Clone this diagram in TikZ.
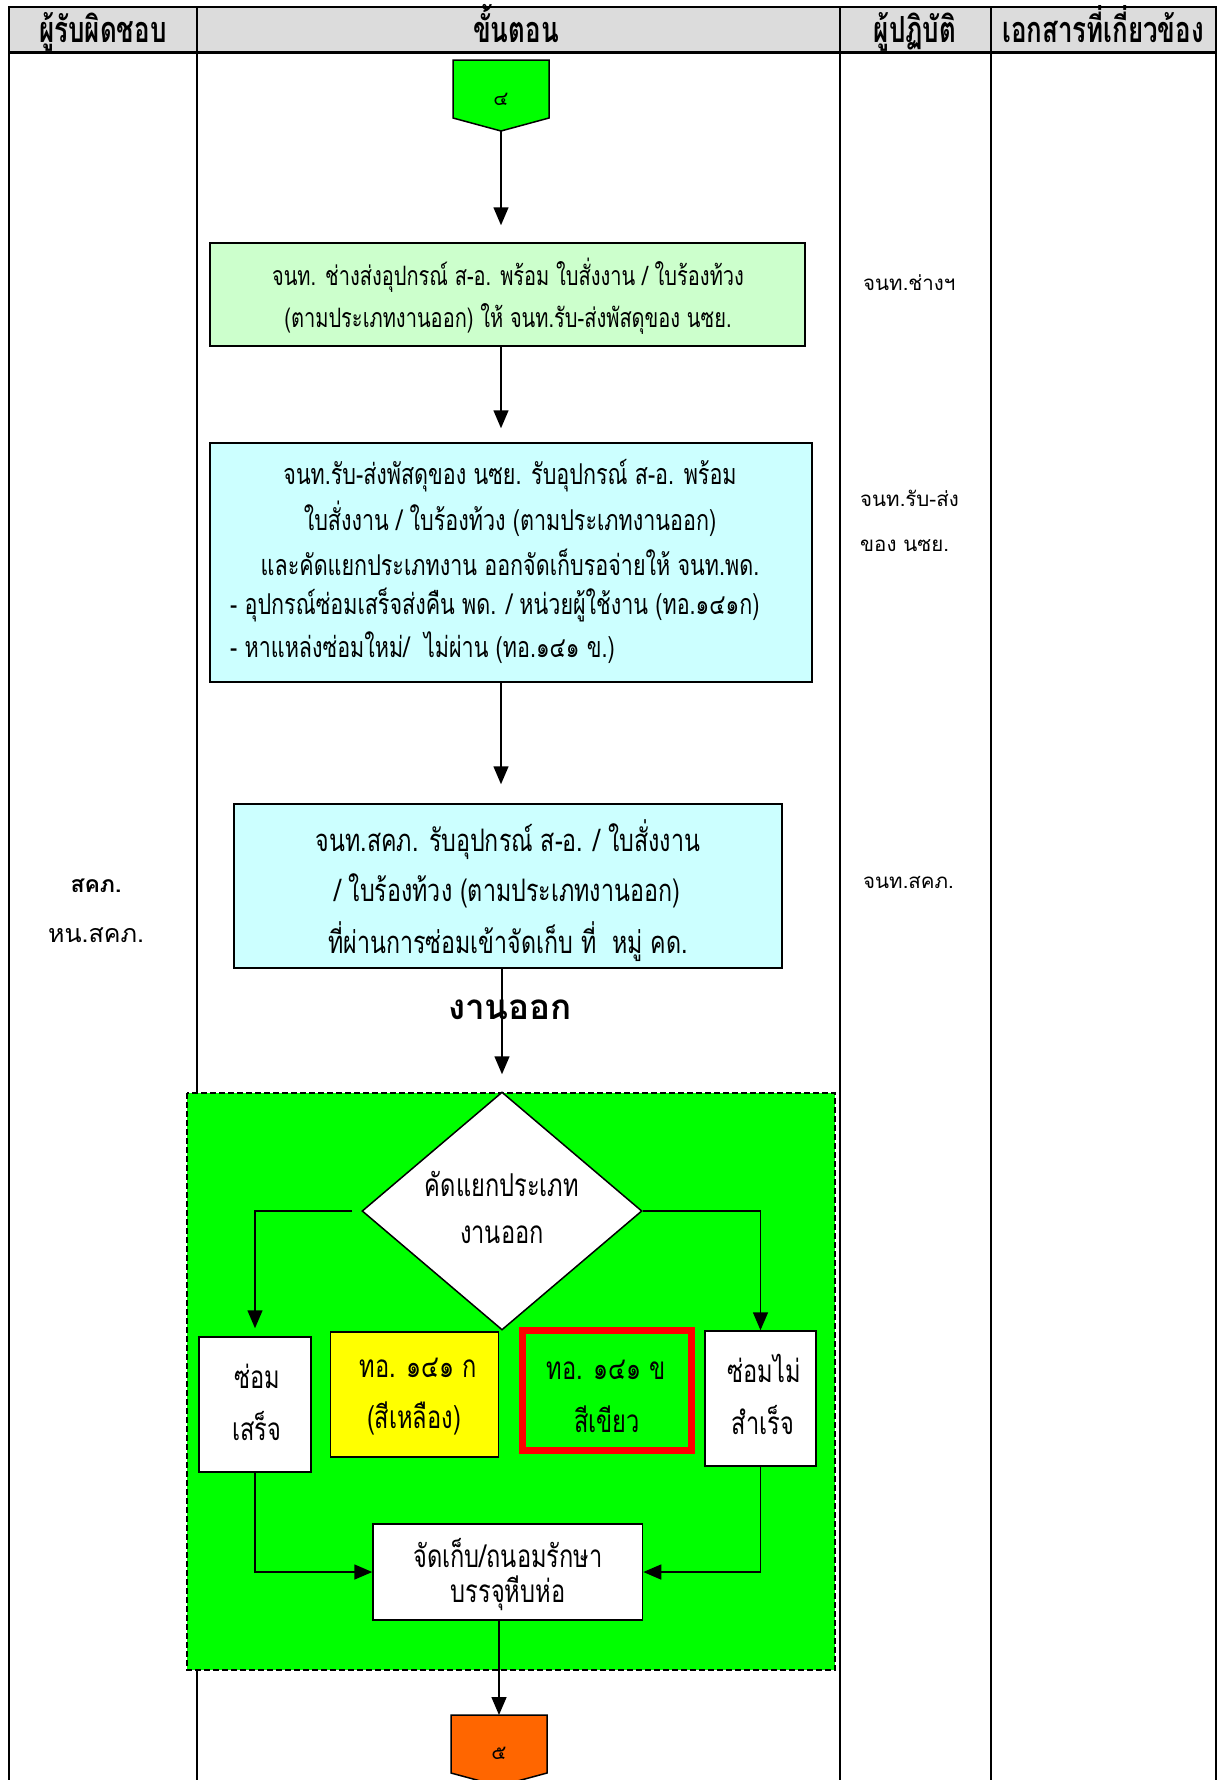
\documentclass[tikz,border=0pt]{standalone}
\usepackage{fontspec}
\setmainfont[Script=Thai]{Loma}
\newfontfamily\thaiC[Script=Thai,FakeStretch=0.75]{Loma}
\newfontfamily\thaiH[Script=Thai,FakeStretch=0.72]{Loma}
\newfontfamily\thaiN[Script=Thai]{Loma}
\usetikzlibrary{arrows.meta,shapes.geometric}
\definecolor{hdgray}{HTML}{DCDCDC}
\definecolor{lgreen}{HTML}{CCFFCC}
\definecolor{lcyan}{HTML}{CCFFFF}
\definecolor{vgreen}{HTML}{00FF00}
\definecolor{vyellow}{HTML}{FFFF00}
\definecolor{vred}{HTML}{FF0000}
\definecolor{vorange}{HTML}{FF6600}
\newcommand\bxf[1]{\thaiC\fontsize{#1}{#1}\selectfont}
\newcommand\sdf[1]{\thaiN\fontsize{#1}{#1}\selectfont}
\newcommand\hdfont{\thaiH\bfseries\fontsize{36}{38}\selectfont}
\tikzset{
  box/.style={draw, line width=1.5pt, inner sep=0pt},
  arr/.style={line width=1.5pt, -{Triangle[length=18pt,width=15pt]}},
  tA/.style={inner sep=0pt, font=\bxf{26.7}},
  tB/.style={inner sep=0pt, font=\bxf{28.7}},
  tC/.style={inner sep=0pt, font=\bxf{31}},
  tD/.style={inner sep=0pt, font=\bxf{31.5}},
  sd/.style={inner sep=0pt, font=\sdf{20.5}},
  hd/.style={inner sep=0pt, font=\hdfont, anchor=base},
}
\begin{document}
\begin{tikzpicture}[x=1pt,y=-1pt]
\useasboundingbox (0,0) rectangle (1218,1780);
\clip (0,0) rectangle (1218,1780);
% table
\fill[hdgray] (9,7) rectangle (1216,52);
\node[hd] (h1) at (103,42) {ผู้รับผิดชอบ};
\node[hd] (h2) at (516,42) {ขั้นตอน};
\node[hd] (h3) at (915,42) {ผู้ปฏิบัติ};
\node[hd] (h4) at (1103,42) {เอกสารที่เกี่ยวข้อง};
\draw[line width=2.5pt] (9,1782) -- (9,7) -- (1216,7) -- (1216,1782);
\draw[line width=3pt] (9,52) -- (1216,52);
\draw[line width=2pt] (197,7) -- (197,1782) (840,7) -- (840,1782) (991,7) -- (991,1782);
% green area
\draw[fill=vgreen, line width=1.5pt, dash pattern=on 6pt off 3pt] (187,1093) rectangle (835,1670);
% start connector
\draw[fill=vgreen, line width=1.5pt] (453,60) -- (549,60) -- (549,118) -- (501,131) -- (453,118) -- cycle;
\coordinate (p4tip) at (501,131);
\node[inner sep=0pt, font=\sdf{20}] (p4) at (501,99) {๔};
% box 1
\node[box, fill=lgreen, minimum width=595pt, minimum height=103pt] (b1) at (507.5,294.5) {};
\node[tA] (b1a) at (508,275) {จนท. ช่างส่งอุปกรณ์ ส-อ. พร้อม ใบสั่งงาน / ใบร้องท้วง};
\node[tA] (b1b) at (508,319) {(ตามประเภทงานออก) ให้ จนท.รับ-ส่งพัสดุของ นซย.};
\node[sd, anchor=west] (s1) at (863,283) {จนท.ช่างฯ};
% box 2
\node[box, fill=lcyan, minimum width=602pt, minimum height=239pt] (b2) at (511,562.5) {};
\node[tB] (b2a) at (510,476) {จนท.รับ-ส่งพัสดุของ นซย. รับอุปกรณ์ ส-อ. พร้อม};
\node[tB] (b2b) at (510,519) {ใบสั่งงาน / ใบร้องท้วง (ตามประเภทงานออก)};
\node[tB] (b2c) at (510,562) {และคัดแยกประเภทงาน ออกจัดเก็บรอจ่ายให้ จนท.พด.};
\node[tB, anchor=west] (b2d) at (230,605) {- อุปกรณ์ซ่อมเสร็จส่งคืน พด. / หน่วยผู้ใช้งาน (ทอ.๑๔๑ก)};
\node[tB, anchor=west] (b2e) at (230,648) {- หาแหล่งซ่อมใหม่/\ \ ไม่ผ่าน (ทอ.๑๔๑ ข.)};
\node[sd, anchor=west] (s2a) at (860,498) {จนท.รับ-ส่ง};
\node[sd, anchor=west] (s2b) at (860,546) {ของ นซย.};
% box 3
\node[box, fill=lcyan, minimum width=548pt, minimum height=164pt] (b3) at (508,886) {};
\node[tC] (b3a) at (508,840) {จนท.สคภ. รับอุปกรณ์ ส-อ. / ใบสั่งงาน};
\node[tC] (b3b) at (507,891) {/ ใบร้องท้วง (ตามประเภทงานออก)};
\node[tC] (b3c) at (508,942) {ที่ผ่านการซ่อมเข้าจัดเก็บ ที่\ \ หมู่ คด.};
\node[sd, anchor=west] (s3) at (863,882) {จนท.สคภ.};
\node[inner sep=0pt, font=\thaiN\bfseries\fontsize{23}{23}\selectfont] (l1) at (96,886) {สคภ.};
\node[inner sep=0pt, font=\sdf{25}] (l2) at (96,935) {หน.สคภ.};
% diamond
\node[diamond, draw, fill=white, line width=1.5pt, inner sep=0pt, minimum width=280pt, minimum height=238pt] (dm) at (502,1211) {};
\node[tD] (dma) at (502,1184) {คัดแยกประเภท};
\node[tD] (dmb) at (502,1235) {งานออก};
% connectors
\draw[arr, shorten >=17pt] (p4tip) -- (p4tip |- b1.north);
\draw[arr, shorten >=14pt] (b1.south -| p4tip) -- (b2.north -| p4tip);
\draw[arr, shorten >=19pt] (b2.south -| p4tip) -- (b3.north -| p4tip);
\draw[arr, shorten >=17pt] (b3.south -| dm.north) -- (dm.north);
\node[inner sep=0pt, font=\thaiN\bfseries\fontsize{35}{35}\selectfont] (go) at (510,1010) {งานออก};
% lower boxes
\node[box, fill=white, minimum width=112pt, minimum height=135pt] (ok) at (255,1404.5) {};
\node[tD] (oka) at (257,1376) {ซ่อม};
\node[tD] (okb) at (257,1426) {เสร็จ};
\node[box, fill=vyellow, minimum width=168pt, minimum height=125pt] (yb) at (414.5,1394.5) {};
\node[tD] (yba) at (418,1368) {ทอ. ๑๔๑ ก};
\node[tD] (ybb) at (414,1418) {(สีเหลือง)};
\node[draw=vred, line width=7pt, fill=vgreen, inner sep=0pt, minimum width=169.5pt, minimum height=120pt] (gb) at (607,1390.5) {};
\node[tD] (gba) at (606,1370) {ทอ. ๑๔๑ ข};
\node[tD] (gbb) at (607,1419) {สีเขียว};
\node[box, fill=white, minimum width=111pt, minimum height=135pt] (nok) at (760.5,1398.5) {};
\node[tD] (noka) at (764,1368) {ซ่อมไม่};
\node[tD] (nokb) at (763,1420) {สำเร็จ};
\node[box, fill=white, minimum width=269.5pt, minimum height=96pt] (st) at (507.75,1572) {};
\node[tD] (sta) at (508,1553) {จัดเก็บ/ถนอมรักษา};
\node[tD] (stb) at (508,1593) {บรรจุหีบห่อ};
\draw[arr, shorten <=9pt, shorten >=8pt] (dm.west) -- (dm.west -| ok.north) -- (ok.north);
\draw[arr] (dm.east) -- (dm.east -| nok.north) -- (nok.north);
\draw[arr] (ok.south) -- (ok.south |- st.west) -- (st.west);
\draw[arr] (nok.south) -- (nok.south |- st.east) -- (st.east);
% end connector
\coordinate (p5top) at (499,1715);
\draw[arr] (st.south -| p5top) -- (p5top);
\draw[fill=vorange, line width=1.5pt] (451,1715) -- (547,1715) -- (547,1773) -- (499,1786) -- (451,1773) -- cycle;
\node[inner sep=0pt, font=\sdf{20}] (p5) at (499,1753) {๕};
\end{tikzpicture}
\end{document}
